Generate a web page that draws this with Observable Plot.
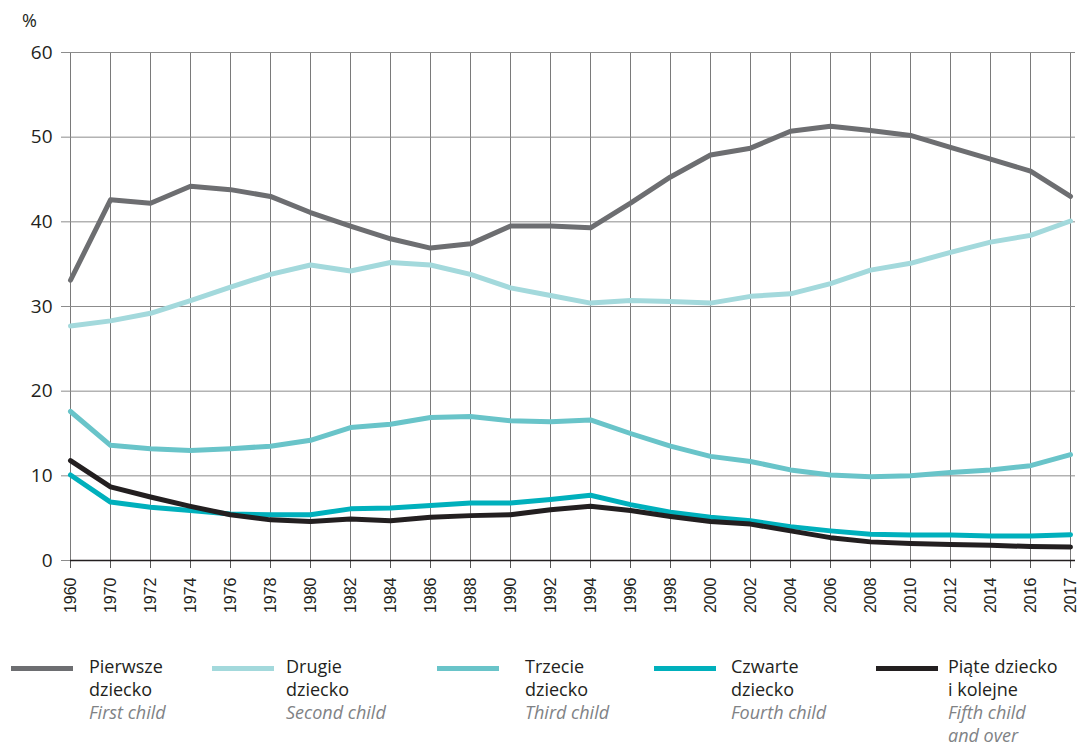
<!DOCTYPE html>
<html>
<head>
<meta charset="utf-8">
<script src="https://cdn.jsdelivr.net/npm/d3@7"></script>
<script src="https://cdn.jsdelivr.net/npm/@observablehq/plot@0.6"></script>
<style>
  html, body { margin: 0; padding: 0; background: #fff; }
  #wrap { position: relative; width: 1079px; height: 748px; font-family: "Open Sans", sans-serif; }
  #pct { position: absolute; left: 22px; top: 8px; font-size: 18px; color: #231f20; }
  #chart { position: absolute; left: 0; top: 0; }
  .item { position: absolute; top: 655px; }
  .sw { position: absolute; top: 11px; height: 5px; width: 62px; }
  .tx { position: absolute; top: 0; font-size: 18px; line-height: 23px; color: #231f20; white-space: nowrap; }
  .tx i { color: #808285; }
</style>
</head>
<body>
<div id="wrap">
  <div id="chart"></div>
  <div id="pct">%</div>
  <div id="legend"></div>
</div>
<script>
const years = ["1960","1970","1972","1974","1976","1978","1980","1982","1984","1986","1988","1990","1992","1994","1996","1998","2000","2002","2004","2006","2008","2010","2012","2014","2016","2017"];

const first  = [33.1,42.6,42.2,44.2,43.8,43.0,41.1,39.5,38.0,36.9,37.4,39.5,39.5,39.3,42.2,45.3,47.9,48.7,50.7,51.3,50.8,50.2,48.8,47.4,46.0,43.0];
const second = [27.7,28.3,29.2,30.7,32.3,33.8,34.9,34.2,35.2,34.9,33.8,32.2,31.3,30.4,30.7,30.6,30.4,31.2,31.5,32.7,34.3,35.1,36.4,37.6,38.4,40.1];
const third  = [17.6,13.6,13.2,13.0,13.2,13.5,14.2,15.7,16.1,16.9,17.0,16.5,16.4,16.6,15.0,13.5,12.3,11.7,10.7,10.1,9.9,10.0,10.4,10.7,11.2,12.5];
const fourth = [10.1,6.9,6.3,5.9,5.5,5.4,5.4,6.1,6.2,6.5,6.8,6.8,7.2,7.7,6.6,5.7,5.1,4.7,4.0,3.5,3.1,3.0,3.0,2.9,2.9,3.05];
const fifth  = [11.8,8.7,7.5,6.4,5.4,4.8,4.6,4.9,4.7,5.1,5.3,5.4,6.0,6.4,5.9,5.2,4.6,4.3,3.5,2.7,2.2,2.0,1.9,1.8,1.65,1.6];

const seriesNames = ["Pierwsze dziecko","Drugie dziecko","Trzecie dziecko","Czwarte dziecko","Piąte dziecko i kolejne"];
const seriesLines1 = ["Pierwsze","Drugie","Trzecie","Czwarte","Piąte dziecko"];
const seriesLines2 = ["dziecko","dziecko","dziecko","dziecko","i kolejne"];
const seriesEnglish = ["First child","Second child","Third child","Fourth child","Fifth child<br>and over"];
const seriesColors = ["#6d6e71","#a3d9dc","#69c4c9","#00b0bc","#231f20"];
const yTicks = [0,10,20,30,40,50,60];

const allSeries = [first, second, third, fourth, fifth];
const rows = [];
allSeries.forEach((vals, si) => {
  vals.forEach((v, i) => rows.push({year: years[i], value: v, series: seriesNames[si]}));
});

const plot = Plot.plot({
  width: 1079,
  height: 620,
  marginLeft: 70,
  marginRight: 4,
  marginTop: 52,
  marginBottom: 60,
  style: {fontFamily: "'Open Sans', sans-serif", background: "#fff"},
  x: {type: "point", domain: years, padding: 0, align: 0},
  y: {domain: [0, 60]},
  color: {domain: seriesNames, range: seriesColors},
  marks: [
    Plot.gridX(years, {stroke: "#7a7a7a", strokeOpacity: 1, strokeWidth: 1}),
    Plot.gridY(yTicks, {stroke: "#8c8c8c", strokeOpacity: 1, strokeWidth: 1}),
    Plot.axisY(yTicks, {tickSize: 9, tickPadding: 9, fill: "#231f20", stroke: "#8c8c8c", label: null}),
    Plot.axisX(years, {tickSize: 8, tickPadding: 9, tickRotate: -90, fill: "#231f20", stroke: "#555", label: null}),
    Plot.ruleY([0], {stroke: "#231f20", strokeWidth: 1.5}),
    Plot.line(rows, {x: "year", y: "value", z: "series", stroke: "series", strokeWidth: 5, strokeLinejoin: "round", strokeLinecap: "round"})
  ]
});
document.getElementById("chart").appendChild(plot);

d3.select(plot).selectAll("text").each(function() {
  const t = d3.select(this);
  const s = t.text().trim();
  if (s.length === 4) {
    t.style("font-size", "16px").style("font-family", "'Liberation Sans', Arial, sans-serif");
  } else {
    t.style("font-size", "19px").style("font-family", "'Open Sans', sans-serif");
  }
});

const swLeft = [11, 212, 437, 654, 876];
const txLeft = [89, 286, 525, 731, 948];
const legend = document.getElementById("legend");
seriesNames.forEach((n, i) => {
  const sw = document.createElement("div");
  sw.className = "item";
  sw.style.left = "0px";
  sw.innerHTML = `<div class="sw" style="left:${swLeft[i]}px;background:${seriesColors[i]}"></div>` +
    `<div class="tx" style="left:${txLeft[i]}px">${seriesLines1[i]}<br>${seriesLines2[i]}<br><i>${seriesEnglish[i]}</i></div>`;
  legend.appendChild(sw);
});
</script>
</body>
</html>
